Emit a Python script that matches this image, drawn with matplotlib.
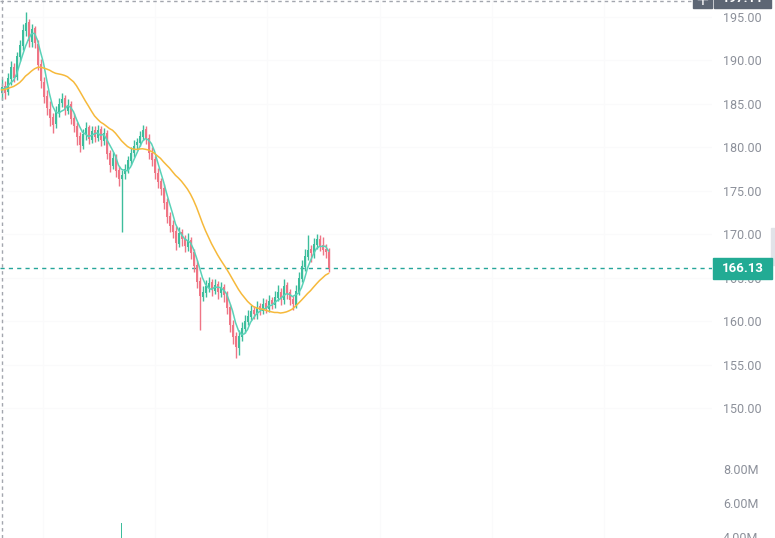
import numpy as np
import pandas as pd
import matplotlib
matplotlib.use('Agg')
from matplotlib import pyplot as plt
from matplotlib.patches import Rectangle

# daily candles visible on screen
opens = [186.2, 187.1, 186.4, 187.9, 189.3, 188.1, 190.4, 191.7, 193.4, 194.4,
         192.1, 193.7, 191.9, 189.6, 187.5, 185.9, 184.4, 183.5, 182.7, 184.1,
         185.1, 185.7, 184.2, 185.0, 183.4, 182.5, 181.3, 180.2, 181.4, 182.3,
         180.9, 182.0, 181.1, 182.1, 180.7, 181.7, 179.3, 177.9, 178.9, 177.4,
         176.3, 176.9, 177.4, 178.4, 179.3, 180.3, 180.5, 181.2, 182.1, 181.1,
         179.4, 178.6, 177.1, 176.1, 175.3, 173.7, 172.1, 171.1, 170.4, 168.9,
         170.2, 169.5, 168.5, 169.3, 167.9, 166.5, 164.6, 162.8, 163.2, 163.9,
         164.5, 163.5, 164.3, 163.2, 163.9, 163.1, 161.6, 159.6, 158.3, 156.9,
         158.2, 159.1, 159.9, 160.5, 161.3, 160.7, 161.7, 161.2, 162.1, 161.4,
         162.4, 161.9, 162.7, 163.4, 162.4, 164.1, 163.3, 162.5, 161.9, 163.4,
         164.9, 166.2, 167.4, 168.3, 167.7, 168.8, 169.5, 168.8, 168.3, 168.0]
highs = [187.9, 187.6, 188.6, 189.9, 189.7, 191.0, 192.4, 194.2, 195.6, 194.8,
         194.2, 194.0, 192.3, 190.2, 188.1, 186.6, 185.3, 184.0, 184.8, 185.7,
         186.3, 186.0, 185.6, 185.3, 184.0, 182.9, 181.8, 182.1, 182.9, 182.6,
         182.5, 182.4, 182.6, 182.4, 182.2, 182.0, 179.7, 179.5, 179.2, 177.8,
         177.4, 178.1, 179.0, 180.0, 180.8, 181.1, 181.9, 182.6, 182.4, 181.5,
         180.0, 179.0, 177.6, 176.5, 175.8, 174.2, 172.6, 171.6, 170.9, 170.8,
         170.6, 169.9, 170.1, 169.7, 168.3, 167.0, 165.1, 164.0, 164.7, 165.1,
         164.9, 164.8, 164.6, 164.5, 164.3, 163.5, 162.0, 160.1, 158.7, 159.0,
         159.9, 160.7, 161.3, 161.9, 161.7, 162.3, 162.1, 162.7, 162.5, 163.0,
         162.8, 163.5, 164.1, 163.8, 164.8, 164.5, 163.7, 162.9, 164.2, 165.7,
         167.0, 168.3, 169.9, 168.8, 169.6, 170.0, 169.9, 169.7, 168.9, 168.4]
lows = [185.4, 185.6, 186.0, 187.2, 187.5, 187.8, 189.9, 191.2, 192.8, 191.6,
        191.5, 191.4, 188.9, 186.8, 185.1, 183.7, 182.5, 181.6, 182.2, 183.5,
        184.6, 183.7, 183.8, 182.7, 181.8, 180.3, 179.5, 179.8, 180.9, 180.4,
        180.5, 180.6, 180.7, 180.1, 180.3, 178.6, 177.2, 177.5, 176.6, 175.6,
        170.2, 176.4, 177.0, 178.0, 178.9, 179.7, 180.1, 180.8, 180.4, 178.7,
        177.8, 176.3, 175.3, 174.5, 172.9, 171.3, 170.3, 169.6, 168.2, 168.5,
        168.7, 167.9, 168.1, 167.1, 165.7, 163.8, 159.0, 162.3, 162.8, 163.4,
        162.9, 163.1, 162.5, 162.8, 162.2, 160.8, 158.8, 157.4, 155.8, 156.1,
        157.7, 158.6, 159.5, 160.1, 160.2, 160.3, 160.7, 160.8, 160.9, 161.0,
        161.4, 161.5, 162.3, 161.9, 162.0, 162.6, 161.8, 161.3, 161.5, 163.0,
        164.5, 165.8, 167.0, 166.8, 167.3, 168.3, 168.1, 167.6, 167.3, 165.6]
closes = [187.0, 186.3, 188.0, 189.2, 188.0, 190.5, 191.8, 193.5, 194.3, 192.2,
          193.6, 192.0, 189.5, 187.6, 185.8, 184.5, 183.4, 182.6, 184.2, 185.0,
          185.6, 184.3, 184.9, 183.3, 182.4, 181.2, 180.3, 181.5, 182.2, 181.0,
          181.9, 181.2, 182.0, 180.8, 181.6, 179.2, 178.0, 178.8, 177.3, 176.4,
          176.8, 177.5, 178.5, 179.4, 180.2, 180.6, 181.3, 182.0, 181.0, 179.3,
          178.5, 177.0, 176.0, 175.2, 173.6, 172.0, 171.0, 170.3, 169.0, 170.1,
          169.4, 168.6, 169.2, 167.8, 166.4, 164.5, 162.9, 163.3, 164.0, 164.4,
          163.6, 164.2, 163.3, 163.8, 163.0, 161.5, 159.5, 158.2, 157.0, 158.3,
          159.2, 160.0, 160.6, 161.2, 160.8, 161.6, 161.3, 162.0, 161.5, 162.3,
          162.0, 162.8, 163.3, 162.5, 164.0, 163.2, 162.4, 162.0, 163.5, 165.0,
          166.3, 167.5, 168.2, 167.8, 168.9, 169.4, 168.7, 168.2, 167.9, 166.13]
volume_m = [2.1, 2.4, 2.0, 2.6, 2.3, 2.8, 2.5, 3.1, 3.4, 2.9,
            2.6, 2.7, 3.0, 3.2, 2.9, 2.7, 2.5, 2.4, 2.2, 2.3,
            2.0, 2.1, 1.9, 2.2, 2.4, 2.6, 2.5, 2.1, 2.0, 1.9,
            1.8, 1.9, 2.0, 2.2, 2.1, 2.5, 2.7, 2.3, 2.6, 2.9,
            4.8, 2.7, 2.4, 2.2, 2.1, 2.0, 2.3, 2.5, 2.4, 2.6,
            2.8, 2.9, 2.7, 2.6, 3.0, 3.2, 3.1, 2.9, 3.0, 2.6,
            2.5, 2.7, 2.4, 2.8, 3.0, 3.3, 3.6, 2.9, 2.6, 2.4,
            2.3, 2.2, 2.4, 2.1, 2.3, 2.7, 3.1, 3.4, 3.6, 3.0,
            2.7, 2.5, 2.3, 2.2, 2.1, 2.0, 2.2, 2.1, 2.0, 2.3,
            2.1, 2.2, 2.4, 2.3, 2.6, 2.4, 2.5, 2.3, 2.7, 3.0,
            3.2, 3.1, 2.9, 2.6, 2.8, 2.5, 2.4, 2.6, 2.7, 2.9]
# closes before the visible window (only feed the moving averages)
warmup_closes = [185.2, 185.9, 186.5, 185.8, 186.4, 187.1, 186.6, 186.0, 186.8, 187.4,
                 186.9, 186.3, 187.0, 187.6, 186.8, 186.1, 186.7, 187.3, 186.5]

last_price = 166.13
cross_price = 197.11
price_ticks = [150, 155, 160, 165, 170, 175, 180, 185, 190, 195]
vol_ticks = [4e6, 6e6, 8e6]

UP = '#3dbd9c'
DOWN = '#ef7585'
LABEL = '#8c909a'

W, H = 775, 538
fig = plt.figure(figsize=(W / 100, H / 100), dpi=100)
fig.patch.set_facecolor('white')

plot_w = 712 / W
ax = fig.add_axes([0, 0, plot_w, 1])
vax = fig.add_axes([0, 0, plot_w, 1], sharex=ax)
vax.patch.set_alpha(0)

df = pd.DataFrame({'open': opens, 'high': highs, 'low': lows, 'close': closes,
                   'volume': np.array(volume_m) * 1e6})
n = len(df)
x = np.arange(n)
allc = pd.Series(warmup_closes + closes)
ma_fast = allc.rolling(5).mean().iloc[-n:].values
ma_slow = allc.rolling(20).mean().iloc[-n:].values

up = df['close'] >= df['open']
colors = np.where(up, UP, DOWN)

ax.vlines(x, df['low'], df['high'], colors=colors, linewidth=1, zorder=3)
body_lo = np.minimum(df['open'], df['close'])
body_h = np.maximum((df['close'] - df['open']).abs(), 0.15)
ax.bar(x, body_h, bottom=body_lo, width=0.6, color=colors, linewidth=0, zorder=3)

ax.plot(x, ma_fast, color='#5ad2b8', linewidth=1.1, zorder=4)
ax.plot(x, ma_slow, color='#f6b93b', linewidth=1.1, zorder=4)

vax.bar(x, df['volume'], width=0.6, color=colors, linewidth=0, zorder=2)

# scales
x0 = -0.5
ax.set_xlim(x0, x0 + 712 / 3)
px_per_unit = (408 - 17) / 45
ax.set_ylim(195 - (H - 17) / px_per_unit, 195 + 17 / px_per_unit)
vax.set_ylim(8e6 - (H - 469) / 17 * 1e6, 8e6 + 469 / 17 * 1e6)

grid_px = [43, 155, 267, 380, 492, 604]
ax.set_xticks([p / 3 + x0 for p in grid_px])
ax.tick_params(axis='x', length=0, labelbottom=False)
ax.grid(True, color='#fafafb', linewidth=0.8, zorder=0)
ax.set_axisbelow(True)

for a in (ax, vax):
    for s in a.spines.values():
        s.set_visible(False)
    a.yaxis.tick_right()
    a.tick_params(axis='y', length=0, pad=8, labelsize=9, labelcolor=LABEL)

ax.set_yticks(price_ticks)
ax.set_yticklabels([f'{p:.2f}' for p in price_ticks], fontfamily='Roboto')
vax.set_yticks(vol_ticks)
vax.set_yticklabels([f'{v / 1e6:.2f}M' for v in vol_ticks], fontfamily='Roboto')
vax.tick_params(axis='x', length=0, labelbottom=False)
vax.grid(False)

# last price line
ax.axhline(last_price, color='#26a69a', linewidth=1, linestyle=(0, (3, 3)), zorder=2)

# crosshair
ax.axhline(196.8, xmax=693 / 712, color='#a3a6ae', linewidth=1, linestyle=(0, (2.5, 2.5)), zorder=5)
ax.axvline(x0 + 2 / 3, color='#a3a6ae', linewidth=1, linestyle=(0, (2.5, 2.5)), zorder=5)


def fx(px):
    return px / W


def fy(py):
    return 1 - py / H


fig.add_artist(Rectangle((fx(713), fy(279)), fx(772) - fx(713), (279 - 258) / H,
                         transform=fig.transFigure, color='#22ab94', zorder=10))
fig.text(fx(742.5), fy(268.5), f'{last_price:.2f}', color='white', fontsize=9.5,
         fontweight='bold', fontfamily='Roboto', ha='center', va='center', zorder=11)

fig.add_artist(Rectangle((fx(693), fy(7.5)), fx(712) - fx(693), 20 / H,
                         transform=fig.transFigure, color='#5d6674', zorder=10))
fig.text(fx(702.5), fy(0), '+', color='white', fontsize=12, ha='center', va='center', zorder=11)
fig.add_artist(Rectangle((fx(714), fy(7.5)), fx(771) - fx(714), 20 / H,
                         transform=fig.transFigure, color='#5d6674', zorder=10))
fig.text(fx(742.5), fy(-2), f'{cross_price:.2f}', color='white', fontsize=9.5,
         fontweight='bold', fontfamily='Roboto', ha='center', va='center', zorder=11)

fig.add_artist(Rectangle((fx(771), fy(265)), fx(775) - fx(771), (265 - 228) / H,
                         transform=fig.transFigure, color='#e1e3e8', zorder=9))

fig.savefig('out.png', dpi=100)
